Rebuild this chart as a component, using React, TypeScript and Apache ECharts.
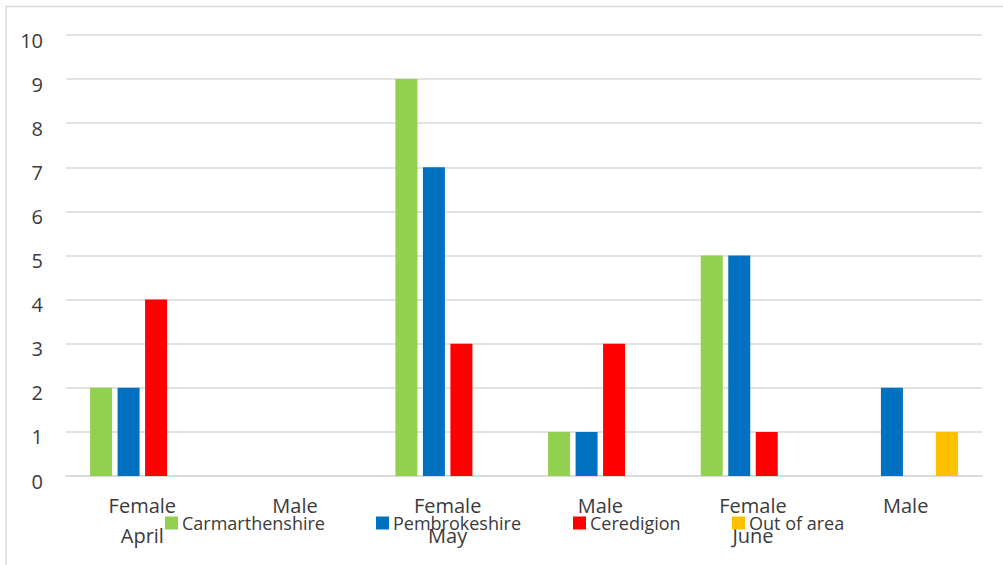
import React, { useEffect, useRef } from "react";
import * as echarts from "echarts";

const categories = ["Female", "Male", "Female", "Male", "Female", "Male"];
const monthLabels = ["April", "", "May", "", "June", ""];
const seriesNames = ["Carmarthenshire", "Pembrokeshire", "Ceredigion", "Out of area"];
const carmarthenshire = [2, 0, 9, 1, 5, 0];
const pembrokeshire = [2, 0, 7, 1, 5, 2];
const ceredigion = [4, 0, 3, 3, 1, 0];
const outOfArea = [0, 0, 0, 0, 0, 1];
const seriesColors = ["#92D050", "#0070C0", "#FF0000", "#FFC000"];
const legendLefts = [165, 376, 573, 732];

const FONT = "'Open Sans', 'Noto Sans', sans-serif";
const TEXT = "#3b3b3b";
const GRID = "#d9d9d9";

export default function App() {
  const ref = useRef<HTMLDivElement>(null);
  useEffect(() => {
    if (!ref.current) return;
    const chart = echarts.init(ref.current, undefined, { renderer: "svg" });
    const values = [carmarthenshire, pembrokeshire, ceredigion, outOfArea];
    chart.setOption({
      animation: false,
      backgroundColor: "#ffffff",
      textStyle: { fontFamily: FONT },
      graphic: [
        {
          type: "rect",
          shape: { x: 6, y: 6.5, width: 1010, height: 580 },
          style: { fill: "none", stroke: GRID, lineWidth: 1.5 },
          silent: true,
        },
      ],
      grid: { left: 66, right: 21, top: 35, bottom: 89, containLabel: false },
      legend: seriesNames.map((n, i) => ({
        data: [n],
        left: legendLefts[i],
        top: 514,
        padding: 0,
        icon: "rect",
        itemWidth: 13,
        itemHeight: 13,
        itemGap: 0,
        selectedMode: false,
        textStyle: { fontSize: 18, color: TEXT, fontFamily: FONT, padding: [0, 0, 0, -1] },
      })),
      xAxis: [
        {
          type: "category",
          data: categories,
          axisLine: { show: true, lineStyle: { color: GRID, width: 1.5 } },
          axisTick: { show: false },
          axisLabel: { fontSize: 20, color: TEXT, fontFamily: FONT, margin: 19, interval: 0 },
          splitLine: { show: false },
        },
        {
          type: "category",
          data: monthLabels,
          position: "bottom",
          offset: 30,
          axisLine: { show: false },
          axisTick: { show: false },
          axisLabel: { fontSize: 20, color: TEXT, fontFamily: FONT, margin: 19, interval: 0 },
          splitLine: { show: false },
        },
      ],
      yAxis: {
        type: "value",
        min: 0,
        max: 10,
        interval: 1,
        axisLine: { show: false },
        axisTick: { show: false },
        axisLabel: {
          fontSize: 20,
          color: TEXT,
          fontFamily: FONT,
          margin: 23,
          verticalAlign: "top",
          lineHeight: 10,
        },
        splitLine: { show: true, lineStyle: { color: GRID, width: 1.5 } },
      },
      series: seriesNames.map((n, i) => ({
        name: n,
        type: "bar",
        xAxisIndex: 0,
        data: values[i],
        barWidth: 22,
        barGap: "25%",
        itemStyle: { color: seriesColors[i] },
      })),
    });
    return () => chart.dispose();
  }, []);
  return (
    <div
      ref={ref}
      style={{ position: "absolute", left: 0, top: 0, width: 1003, height: 565 }}
    />
  );
}
